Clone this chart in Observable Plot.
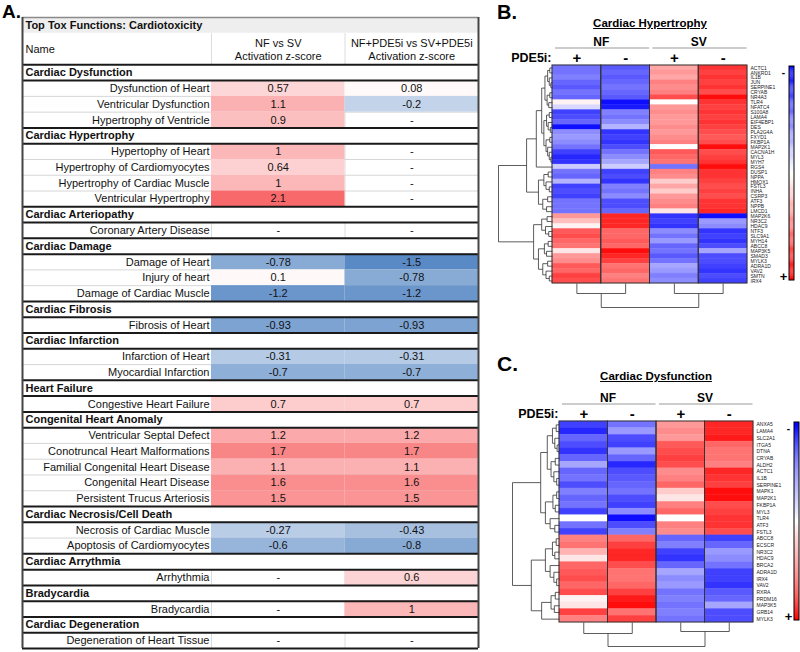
<!DOCTYPE html>
<html><head><meta charset="utf-8">
<script src="https://cdn.jsdelivr.net/npm/d3@7"></script>
<script src="https://cdn.jsdelivr.net/npm/@observablehq/plot@0.6"></script>
<style>
body{margin:0;background:#fff;}
#wrap{position:relative;width:800px;height:652px;font-family:"Liberation Sans",Arial,sans-serif;overflow:hidden;background:#fff;}
#wrap svg{position:absolute;overflow:visible;}
.lbl{position:absolute;font-weight:bold;line-height:1.15;color:#000;}
.ttl{position:absolute;font-weight:bold;font-size:11.5px;text-decoration:underline;transform:translateX(-50%);white-space:nowrap;line-height:1;color:#000;}
</style></head><body><div id="wrap">
<div class="lbl" style="left:2px;top:1px;font-size:19px">A.</div>
<div class="lbl" style="left:497px;top:1px;font-size:20px">B.</div>
<div class="lbl" style="left:497px;top:352px;font-size:21px">C.</div>
<div class="ttl" style="left:650px;top:18px">Cardiac Hypertrophy</div>
<div class="ttl" style="left:656px;top:371px">Cardiac Dysfunction</div>
</div>
<script>
// ================= DATA =================
const tableTitle = "Top Tox Functions: Cardiotoxicity";
const nameHeader = "Name";
const columnHeaders = ["NF vs SV\nActivation z-score", "NF+PDE5i vs SV+PDE5i\nActivation z-score"];
const sections = ["Cardiac Dysfunction","Cardiac Hypertrophy","Cardiac Arteriopathy","Cardiac Damage","Cardiac Fibrosis","Cardiac Infarction","Heart Failure","Congenital Heart Anomaly","Cardiac Necrosis/Cell Death","Cardiac Arrythmia","Bradycardia","Cardiac Degeneration"];
const functionSection = [0,0,0,1,1,1,1,2,3,3,3,4,5,5,6,7,7,7,7,7,8,8,9,10,11];
const functionNames = ["Dysfunction of Heart","Ventricular Dysfunction","Hypertrophy of Ventricle","Hypertophy of Heart","Hypertrophy of Cardiomyocytes","Hypertrophy of Cardiac Muscle","Ventricular Hypertrophy","Coronary Artery Disease","Damage of Heart","Injury of heart","Damage of Cardiac Muscle","Fibrosis of Heart","Infarction of Heart","Myocardial Infarction","Congestive Heart Failure","Ventricular Septal Defect","Conotruncal Heart Malformations","Familial Congenital Heart Disease","Congenital Heart Disease","Persistent Trucus Arteriosis","Necrosis of Cardiac Muscle","Apoptosis of Cardiomyocytes","Arrhythmia","Bradycardia","Degeneration of Heart Tissue"];
const zNFvsSV = [0.57,1.1,0.9,1,0.64,1,2.1,null,-0.78,0.1,-1.2,-0.93,-0.31,-0.7,0.7,1.2,1.7,1.1,1.6,1.5,-0.27,-0.6,null,null,null];
const zPDE5i  = [0.08,-0.2,null,null,null,null,null,null,-1.5,-0.78,-1.2,-0.93,-0.31,-0.7,0.7,1.2,1.7,1.1,1.6,1.5,-0.43,-0.8,0.6,1,null];

const conditions = ["NF +","NF -","SV +","SV -"];
const conditionGroups = ["NF","NF","SV","SV"];
const pdeLabels = ["+","-","+","-"];

const hypGenes = ["ACTC1","ANKRD1","IL1B","JUN","SERPINE1","CRYAB","NR4A3","TLR4","NFATC4","S100A8","LAMA4","EIF4EBP1","DES","PLA2G4A","FXYD1","FKBP1A","MAP2K1","CACNA1H","MYL3","MYH7","RGS4","DUSP1","NPPA","HMOX1","FSTL3","INHA","CSRP3","ATF3","NPPB","LMCD1","MAP2K6","NR3C2","HDAC9","NTF3","SLC9A1","MYH14","ABCC8","MAP3K5","SMAD3","MYLK3","ADRA1D","VAV2","SMTN","IRX4"];
const hypNFplus  = [-0.55,-0.55,-0.5,-0.6,-0.65,-0.55,-0.6,0.05,-0.15,-0.75,-0.7,-0.6,-0.95,-0.45,-0.4,-0.45,-0.55,-0.75,-0.85,-0.8,-0.2,-0.55,-0.6,-0.3,-0.75,-0.7,-0.75,-0.55,-0.55,-0.55,0.4,0.25,0.05,0.65,0.7,0.6,0.55,0.1,0.4,0.45,0.65,0.6,0.75,0.7];
const hypNFminus = [-0.65,-0.6,-0.65,-0.6,-0.55,-0.6,-0.65,-0.95,-0.9,-0.5,-0.55,-0.45,-0.3,-0.8,-0.75,-0.8,-0.7,-0.55,-0.45,-0.35,-0.2,-0.75,-0.7,-0.8,-0.5,-0.55,-0.45,-0.7,-0.7,-0.6,0.85,0.85,0.85,0.6,0.6,0.65,0.6,0.95,0.85,0.75,0.55,0.6,0.5,0.55];
const hypSVplus  = [0.35,0.4,0.35,0.5,0.45,0.5,0.7,0.0,0.4,0.45,0.4,0.4,0.45,0.4,0.45,0.5,0.0,0.65,0.6,0.55,-0.55,0.5,0.45,0.2,0.35,0.2,0.4,0.45,0.5,0.1,-0.8,-0.75,-0.8,-0.45,-0.55,-0.4,-0.6,-0.55,-0.65,-0.55,-0.35,-0.4,-0.5,-0.45];
const hypSVminus = [0.8,0.75,0.8,0.75,0.8,0.7,0.95,0.8,0.75,0.8,0.75,0.8,0.75,0.7,0.65,0.7,0.95,0.7,0.75,0.8,0.95,0.8,0.8,0.75,0.7,0.75,0.7,0.8,0.8,0.85,-0.95,-0.4,-0.45,-0.8,-0.75,-0.8,-0.7,-0.35,-0.7,-0.7,-0.75,-0.8,-0.7,-0.75];

const dysGenes = ["ANXA5","LAMA4","SLC2A1","ITGA5","DTNA","CRYAB","ALDH2","ACTC1","IL1B","SERPINE1","MAPK1","MAP2K1","FKBP1A","MYL3","TLR4","ATF3","FSTL3","ABCC8","ECSCR","NR3C2","HDAC9","BRCA2","ADRA1D","IRX4","VAV2","RXRA","PRDM16","MAP3K5","GRB14","MYLK3"];
const dysNFplus  = [-0.75,-0.85,-0.6,-0.7,-0.8,-0.6,-0.35,-0.6,-0.55,-0.7,-0.5,-0.6,-0.55,-0.75,0.0,-0.55,-0.75,0.5,0.55,0.3,0.1,0.6,0.65,0.7,0.6,0.7,0.05,0.1,0.75,0.5];
const dysNFminus = [-0.55,-0.4,-0.7,-0.75,-0.4,-0.6,-0.85,-0.7,-0.65,-0.6,-0.55,-0.7,-0.75,-0.45,-0.95,-0.7,-0.5,0.6,0.75,0.85,0.85,0.7,0.55,0.55,0.6,0.75,0.9,0.95,0.55,0.75];
const dysSVplus  = [0.4,0.45,0.4,0.65,0.7,0.75,0.7,0.45,0.5,0.6,0.2,0.1,0.5,0.6,0.0,0.5,0.45,-0.6,-0.5,-0.75,-0.8,-0.6,-0.35,-0.45,-0.4,-0.55,-0.5,-0.55,-0.5,-0.55];
const dysSVminus = [0.85,0.85,0.9,0.6,0.55,0.55,0.5,0.85,0.8,0.75,0.95,0.95,0.7,0.75,0.8,0.8,0.7,-0.75,-0.6,-0.4,-0.45,-0.55,-0.75,-0.75,-0.8,-0.65,-0.6,-0.35,-0.7,-0.7];

// dendrograms: [height, left, right]
const hypRowTree = [10,
  [4.8,
    [3.0,
      [2.0,
        [1.4,[0.9,[0.5,"ACTC1","ANKRD1"],[0.6,"IL1B",[0.3,"JUN","SERPINE1"]]],[1.0,[0.5,"CRYAB","NR4A3"],[0.7,"TLR4","NFATC4"]]],
        [1.6,[1.1,[0.6,"S100A8","LAMA4"],[0.8,"EIF4EBP1",[0.4,"DES","PLA2G4A"]]],[1.2,[0.5,"FXYD1","FKBP1A"],[0.9,"MAP2K1",[0.6,"CACNA1H",[0.3,"MYL3","MYH7"]]]]]],
      "RGS4"],
    [2.6,[1.6,[0.8,"DUSP1","NPPA"],[1.2,"HMOX1",[0.6,"FSTL3","INHA"]]],[1.8,[0.9,"CSRP3","ATF3"],[1.1,"NPPB","LMCD1"]]]],
  [3.5,[2.0,[1.0,"MAP2K6","NR3C2"],[1.3,"HDAC9",[0.7,"NTF3","SLC9A1"]]],[2.6,[1.5,[0.8,"MYH14","ABCC8"],[1.1,"MAP3K5","SMAD3"]],[1.8,[0.9,"MYLK3","ADRA1D"],[1.2,"VAV2",[0.6,"SMTN","IRX4"]]]]]];
const dysRowTree = [10,
  [4.0,[2.6,[1.5,[0.7,"ANXA5","LAMA4"],[1.0,"SLC2A1",[0.5,"ITGA5","DTNA"]]],[1.8,[0.9,"CRYAB","ALDH2"],[1.2,"ACTC1",[0.6,"IL1B","SERPINE1"]]]],
       [3.0,[1.4,[0.6,"MAPK1","MAP2K1"],[0.9,"FKBP1A","MYL3"]],[2.0,"TLR4",[1.0,"ATF3","FSTL3"]]]],
  [6.0,[3.0,[1.5,[0.7,"ABCC8","ECSCR"],[1.0,"NR3C2","HDAC9"]],[2.0,"BRCA2",[1.2,"ADRA1D",[0.6,"IRX4","VAV2"]]]],
       [3.8,[1.8,[0.9,"RXRA","PRDM16"],[1.1,"MAP3K5","GRB14"]],"MYLK3"]]];
const hypColTree = [2.4,[1.0,"NF +","NF -"],[1.0,"SV +","SV -"]];
const dysColTree = [2.4,[1.1,"NF +","NF -"],[0.9,"SV +","SV -"]];

// ================= DRAWING =================
const FONT = "'Liberation Sans', Arial, sans-serif";
const wrap = document.getElementById("wrap");
function place(svg, left, top){ svg.style.left = left + "px"; svg.style.top = top + "px"; wrap.appendChild(svg); }

// ---- Table (panel A) ----
const rows = [];
let r = 3;
sections.forEach((s, si) => {
  rows.push({kind: "section", label: s, i: r++});
  functionNames.forEach((f, k) => {
    if (functionSection[k] === si) rows.push({kind: "item", label: f, i: r++, k, sec: si});
  });
});
const nRows = r;
const items = rows.filter(d => d.kind === "item");
const sectionRows = rows.filter(d => d.kind === "section");
const valueCells = items.flatMap(d => [
  {i: d.i, col: 1, v: zNFvsSV[d.k]},
  {i: d.i, col: 2, v: zPDE5i[d.k]}
]);
const thickYs = [3];
rows.forEach((d, j) => {
  const next = rows[j + 1];
  if (d.kind === "section" || !next || next.kind === "section") thickYs.push(d.i + 1);
});
const thinYs = items.filter((d, j) => j > 0 && items[j - 1].sec === d.sec).map(d => d.i);
const vSeps = items.flatMap(d => [{x: 1, y1: d.i, y2: d.i + 1}, {x: 2, y1: d.i, y2: d.i + 1}])
  .concat([{x: 1, y1: 1, y2: 3}, {x: 2, y1: 1, y2: 3}]);

const t0 = 1.5 / 3.6;
const tableInterp = t => t < t0
  ? d3.interpolateRgb("#ffffff", "#5A8AC6")(Math.sqrt((t0 - t) / t0))
  : d3.interpolateRgb("#ffffff", "#F8696B")((t - t0) / (1 - t0));

const table = Plot.plot({
  width: 480, height: 652,
  x: {type: "linear", domain: [0, 1, 2, 3], range: [22, 211, 344.5, 478], axis: null},
  y: {type: "linear", domain: [0, nRows], range: [17, 648], axis: null},
  color: {type: "linear", domain: [-1.5, 2.1], interpolate: tableInterp},
  style: {fontFamily: FONT, fontSize: "11px", background: "transparent", overflow: "visible"},
  marks: [
    Plot.rect([tableTitle], {x1: 0, x2: 3, y1: 0, y2: 1, fill: "#eeeeee"}),
    Plot.ruleY(thinYs, {x1: 0, x2: 3, stroke: "#d6d6d6", strokeWidth: 1}),
    Plot.link(vSeps, {x1: "x", x2: "x", y1: "y1", y2: "y2", stroke: "#dcdcdc", strokeWidth: 1}),
    Plot.rect(valueCells.filter(d => d.v != null), {x1: "col", x2: d => d.col + 1, y1: "i", y2: d => d.i + 1, fill: "v"}),
    Plot.ruleY(thickYs, {x1: 0, x2: 3, stroke: "#1a1a1a", strokeWidth: 2}),
    Plot.ruleY([0], {x1: 0, x2: 3, stroke: "#8a8a8a", strokeWidth: 1.5}),
    Plot.ruleX([0, 3], {y1: 0, y2: nRows, stroke: "#444", strokeWidth: 2}),
    Plot.text([tableTitle], {x: 0, y: 0.5, dx: 3, textAnchor: "start", fontWeight: "bold", fill: "#111"}),
    Plot.text([nameHeader], {x: 0, y: 2, dx: 3, textAnchor: "start", fill: "#111"}),
    Plot.text(columnHeaders, {x: (d, i) => i + 1.5, y: 2, lineHeight: 1.25, fill: "#111"}),
    Plot.text(sectionRows, {x: 0, y: d => d.i + 0.5, dx: 3, text: "label", textAnchor: "start", fontWeight: "bold", fill: "#111"}),
    Plot.text(items, {x: 1, y: d => d.i + 0.5, dx: -2, text: "label", textAnchor: "end", fill: "#111"}),
    Plot.text(valueCells, {x: d => d.col + 0.5, y: d => d.i + 0.5, text: d => d.v == null ? "-" : String(d.v), fill: "#111"})
  ]
});
place(table, 0, 0);

// ---- Heatmaps (panels B, C) ----
const heatColor = {type: "linear", domain: [-1, 0, 1], range: ["#0000ff", "#ffffff", "#ff0000"], interpolate: "rgb"};

function heatmap({genes, cols, rowTree, colTree, xRange, yRange, width, height}) {
  const n = genes.length;
  const cells = [];
  genes.forEach((g, i) => cols.forEach((arr, j) => cells.push({gene: g, row: i, col: j, v: arr[i]})));
  const segs = [];
  (function walk(node) {
    if (typeof node === "string") return {y: genes.indexOf(node) + 0.5, h: 0};
    const [h, a, b] = node; const A = walk(a), B = walk(b);
    segs.push({x1: -A.h, y1: A.y, x2: -h, y2: A.y});
    segs.push({x1: -B.h, y1: B.y, x2: -h, y2: B.y});
    segs.push({x1: -h, y1: A.y, x2: -h, y2: B.y});
    return {y: (A.y + B.y) / 2, h};
  })(rowTree);
  (function walk(node) {
    if (typeof node === "string") return {x: conditions.indexOf(node) + 0.5, h: 0};
    const [h, a, b] = node; const A = walk(a), B = walk(b);
    segs.push({x1: A.x, y1: n + A.h, x2: A.x, y2: n + h});
    segs.push({x1: B.x, y1: n + B.h, x2: B.x, y2: n + h});
    segs.push({x1: A.x, y1: n + h, x2: B.x, y2: n + h});
    return {x: (A.x + B.x) / 2, h};
  })(colTree);
  const groups = d3.groups(conditions.map((c, j) => ({c, j, g: conditionGroups[j]})), d => d.g)
    .map(([g, v]) => ({g, start: d3.min(v, d => d.j), end: d3.max(v, d => d.j) + 1}));
  return Plot.plot({
    width, height,
    x: {type: "linear", domain: [-rowTree[0], 0, conditions.length], range: xRange, axis: null},
    y: {type: "linear", domain: [0, n, n + colTree[0]], range: yRange, axis: null},
    color: heatColor,
    style: {fontFamily: FONT, background: "transparent", overflow: "visible"},
    marks: [
      Plot.rect(cells, {x1: "col", x2: d => d.col + 1, y1: "row", y2: d => d.row + 1, fill: "v", stroke: "v", strokeWidth: 0.4}),
      Plot.rect(conditions, {x1: (d, j) => j, x2: (d, j) => j + 1, y1: 0, y2: n, fill: "none", stroke: "#333", strokeWidth: 1}),
      Plot.link(segs, {x1: "x1", y1: "y1", x2: "x2", y2: "y2", stroke: "#333", strokeWidth: 0.8}),
      Plot.text(genes, {x: conditions.length, y: (d, i) => i + 0.5, dx: 3, textAnchor: "start", fontSize: 5, fill: "#222"}),
      Plot.text(pdeLabels, {x: (d, i) => i + 0.5, y: 0, dy: -7.5, fontSize: 15, fontWeight: "bold", fill: "#000"}),
      Plot.text(["PDE5i:"], {x: 0, y: 0, dx: -1, dy: -7.5, textAnchor: "end", fontSize: 12.5, fontWeight: "bold", fill: "#000"}),
      Plot.text(groups, {x: d => (d.start + d.end) / 2, y: 0, dy: -23, text: "g", fontSize: 12, fontWeight: "bold", fill: "#000"}),
      Plot.link(groups, {x1: d => d.start + 0.05, x2: d => d.end - 0.02, y1: 0, y2: 0, dy: -17.5, stroke: "#999", strokeWidth: 1})
    ]
  });
}

place(heatmap({genes: hypGenes, cols: [hypNFplus, hypNFminus, hypSVplus, hypSVminus],
  rowTree: hypRowTree, colTree: hypColTree, xRange: [18, 72, 267], yRange: [65, 283, 307], width: 320, height: 330}), 480, 0);
place(heatmap({genes: dysGenes, cols: [dysNFplus, dysNFminus, dysSVplus, dysSVminus],
  rowTree: dysRowTree, colTree: dysColTree, xRange: [32, 79, 273], yRange: [91, 292, 316], width: 320, height: 322}), 480, 330);

// ---- Colour bars ----
const rampSteps = d3.range(-1, 1, 0.01);
function colorBar(h) {
  return Plot.plot({
    width: 24, height: h + 12, marginLeft: 13, marginRight: 6, marginTop: 6, marginBottom: 6,
    x: {domain: [0, 1], axis: null},
    y: {domain: [-1, 1], range: [6, h + 6], axis: null},
    color: heatColor,
    style: {fontFamily: FONT, background: "transparent", overflow: "visible"},
    marks: [
      Plot.rect(rampSteps, {x1: 0, x2: 1, y1: d => d, y2: d => d + 0.0105, fill: d => d + 0.005}),
      Plot.rect([0], {x1: 0, x2: 1, y1: -1, y2: 1, fill: "none", stroke: "#000", strokeWidth: 1}),
      Plot.text(["-"], {x: 0, y: -1, dx: -6, dy: 6, fontSize: 10, fontWeight: "bold", fill: "#000"}),
      Plot.text(["+"], {x: 0, y: 1, dx: -6, dy: -4, fontSize: 13, fontWeight: "bold", fill: "#000"})
    ]
  });
}
place(colorBar(214), 776, 60);
place(colorBar(198), 781, 416);
</script></body></html>
